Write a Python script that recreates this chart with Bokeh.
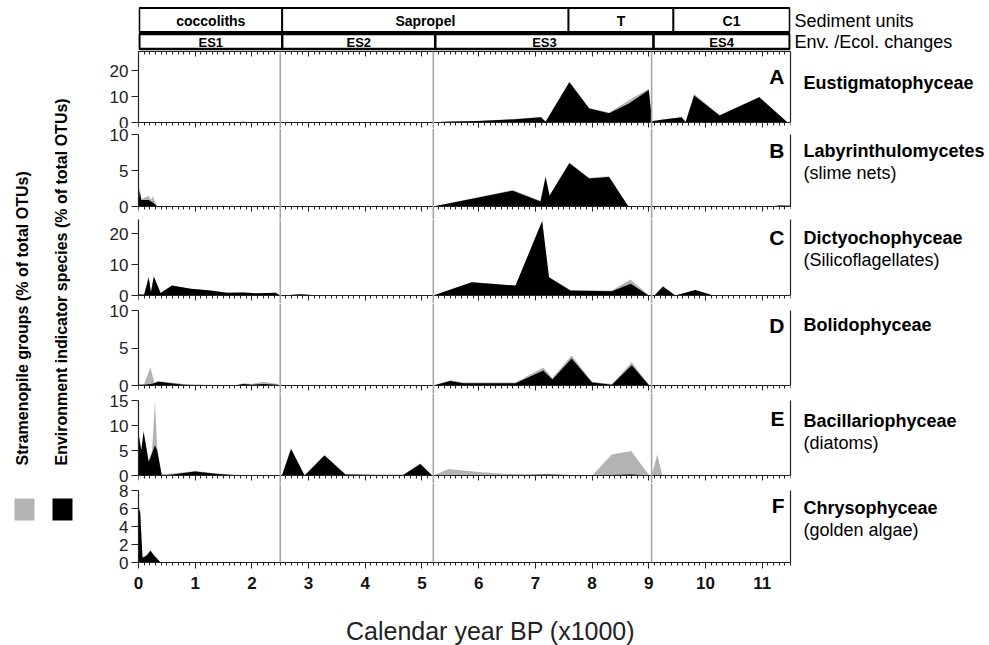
import math
from bokeh.plotting import figure
from bokeh.layouts import row, column
from bokeh.models import (Range1d, LinearAxis, SingleIntervalTicker, FixedTicker,
                          Span, Label, ColumnDataSource, CustomJSTickFormatter)
from bokeh.core.properties import value
from bokeh.embed import file_html
from bokeh.resources import INLINE

FONT = "Liberation Sans"
GRAY = "#b3b3b3"
VLINE = "#a6a6a6"
AXC = "#222222"

# ---------------- data ----------------
sediment_units = ["coccoliths", "Sapropel", "T", "C1"]
sediment_edges = [-0.02, 2.5, 7.55, 9.4, 11.45]
env_changes = ["ES1", "ES2", "ES3", "ES4"]
env_edges = [-0.02, 2.5, 5.2, 9.05, 11.45]
boundaries = [2.5, 5.2, 9.05]
x_max = 11.5

# A  Eustigmatophyceae
xA = [0.0, 1.75, 1.85, 1.95, 5.2, 5.4, 6.0, 6.6, 7.1, 7.18, 7.6, 7.95, 8.3, 8.65, 9.0,
      9.06, 9.2, 9.58, 9.65, 9.8, 10.25, 10.95, 11.45, 11.5]
blackA = [0, 0, 0.3, 0, 0, 0.3, 0.6, 1.2, 2.0, 0.3, 15.5, 5.4, 3.6, 7.3, 12.5,
          0.5, 1.0, 2.0, 0.2, 10.4, 2.7, 9.7, 0, 0]
grayA = [0, 0, 0.4, 0, 0, 0.4, 0.7, 1.3, 2.1, 0.4, 15.8, 5.6, 3.8, 8.6, 13.0,
         0.6, 1.1, 2.1, 0.3, 11.0, 2.9, 9.9, 0, 0]

# B  Labyrinthulomycetes
xB = [0.0, 0.02, 0.05, 0.18, 0.22, 0.25, 0.33, 5.2, 6.6, 7.09, 7.18, 7.25, 7.6,
      7.95, 8.3, 8.64, 11.2, 11.3, 11.5]
blackB = [0, 2.2, 0.9, 0.9, 0.7, 0.6, 0, 0, 2.2, 0.7, 4.1, 1.5, 6.0, 3.9, 4.1, 0, 0, 0.15, 0.1]
grayB = [0, 2.6, 1.0, 1.5, 0.9, 1.4, 0, 0, 2.3, 0.8, 4.2, 1.6, 6.1, 4.0, 4.2, 0, 0, 0.2, 0.1]

# C  Dictyochophyceae
xC = [0.0, 0.1, 0.18, 0.22, 0.27, 0.39, 0.59, 0.92, 1.27, 1.56, 1.85, 2.09, 2.42, 2.5,
      2.6, 2.86, 3.2, 5.2, 5.62, 5.88, 6.65, 7.12, 7.24, 7.62, 8.35, 8.68, 9.0, 9.1,
      9.25, 9.47, 9.82, 10.14, 11.5]
blackC = [0.3, 0.3, 5.9, 1.0, 6.1, 0.8, 3.2, 2.2, 1.6, 0.9, 1.0, 0.7, 0.9, 0,
          0.1, 0.4, 0, 0, 2.7, 4.3, 3.2, 24.0, 5.9, 1.6, 1.4, 3.8, 0, 0,
          2.9, 0, 1.8, 0, 0]
grayC = [0.3, 0.3, 5.9, 1.0, 6.1, 0.8, 3.2, 2.2, 1.6, 0.9, 1.0, 0.7, 0.9, 0,
         0.1, 0.4, 0, 0, 2.7, 4.3, 3.2, 24.0, 5.9, 1.6, 1.6, 5.2, 0, 0,
         2.9, 0, 1.8, 0, 0]

# D  Bolidophyceae
xD = [0.0, 0.1, 0.21, 0.28, 0.35, 0.8, 1.2, 1.7, 1.85, 2.0, 2.2, 2.45, 2.5, 5.2, 5.5,
      5.73, 6.65, 7.14, 7.3, 7.64, 8.0, 8.35, 8.7, 9.01, 11.5]
blackD = [0.1, 0.1, 0.2, 0.3, 0.5, 0.1, 0.0, 0.0, 0.2, 0.1, 0.2, 0.1, 0, 0, 0.6,
          0.3, 0.3, 2.0, 0.8, 3.6, 0.4, 0.1, 2.7, 0, 0]
grayD = [0.1, 0.2, 2.4, 0.4, 0.6, 0.2, 0.1, 0.05, 0.3, 0.2, 0.5, 0.2, 0, 0, 0.7,
         0.4, 0.4, 2.4, 1.0, 4.0, 0.5, 0.2, 3.1, 0, 0]

# E  Bacillariophyceae
xE = [0.0, 0.05, 0.09, 0.18, 0.24, 0.29, 0.33, 0.41, 0.6, 1.0, 1.4, 1.8, 2.5, 2.53,
      2.69, 2.93, 3.28, 3.65, 4.2, 4.67, 4.97, 5.18, 5.2, 5.47, 6.0, 6.5, 7.2, 8.0,
      8.35, 8.69, 9.01, 9.05, 9.15, 9.24, 11.5]
blackE = [8.3, 5.0, 8.7, 2.7, 4.5, 6.0, 5.0, 0, 0.2, 0.8, 0.3, 0, 0, 0,
          5.3, 0, 4.0, 0.2, 0.1, 0.1, 2.3, 0, 0, 0.1, 0.05, 0, 0.2, 0,
          0.1, 0.2, 0, 0, 0, 0, 0]
grayE = [8.5, 5.2, 9.0, 3.0, 5.0, 15.0, 5.5, 0.3, 0.4, 0.9, 0.4, 0.1, 0, 0,
         5.4, 0.1, 4.1, 0.3, 0.2, 0.2, 2.4, 0, 0, 1.3, 0.7, 0.3, 0.2, 0,
         4.2, 4.9, 0, 0, 4.2, 0, 0]

# F  Chrysophyceae
xF = [0.0, 0.03, 0.07, 0.1, 0.15, 0.21, 0.27, 0.39, 11.5]
blackF = [6.1, 5.5, 0.5, 0.6, 0.8, 1.3, 0.8, 0, 0]
grayF = [6.4, 5.8, 0.7, 0.7, 0.9, 1.4, 0.9, 0, 0]

panel_letters = ["A", "B", "C", "D", "E", "F"]
group_names = ["Eustigmatophyceae", "Labyrinthulomycetes", "Dictyochophyceae",
               "Bolidophyceae", "Bacillariophyceae", "Chrysophyceae"]
group_subtitles = ["", "(slime nets)", "(Silicoflagellates)", "", "(diatoms)", "(golden algae)"]
y_ticks = [[0, 10, 20], [0, 5, 10], [0, 10, 20], [0, 5, 10], [0, 5, 10, 15], [0, 2, 4, 6, 8]]
y_axis_max = [None, 10, 25, 10, 15, 8]
series_x = [xA, xB, xC, xD, xE, xF]
series_black = [blackA, blackB, blackC, blackD, blackE, blackF]
series_gray = [grayA, grayB, grayC, grayD, grayE, grayF]

# ---------------- geometry (page pixels) ----------------
W, H = 989, 645
X0, X1 = 138, 790
PX = (X1 - X0) / x_max
LEFT_W = 98
COL_R = 793
BL = X0 - LEFT_W
BR = COL_R - X1
HEADER_H = 51
F_BOTTOM = 34

# top, bottom of canvas; baseline; px per unit
geo = [(51, 128, 122, 2.6), (128, 219, 206, 7.2), (219, 303, 295, 3.1),
       (303, 393, 385, 7.5), (393, 483, 475, 5.0), (483, 562, 562, 9.0)]
letter_y = [76, 150, 237, 325, 418, 505]
name_y = [82, 150, 237, 324, 420, 507]


def tick_x():
    return SingleIntervalTicker(interval=1, num_minor_ticks=10)


def base_fig(**kw):
    p = figure(output_backend="svg", toolbar_location=None,
               x_axis_location=None, y_axis_location=None, **kw)
    p.outline_line_color = None
    p.background_fill_color = "white"
    p.border_fill_color = "white"
    for g in p.grid:
        g.visible = False
    return p


def blank_axis(**kw):
    return LinearAxis(formatter=CustomJSTickFormatter(code="return ''"),
                      major_label_text_font_size="0px", major_label_standoff=0,
                      axis_line_color=AXC, major_tick_line_color=AXC,
                      minor_tick_line_color=AXC, axis_line_width=1.2, **kw)


# ---------------- header ----------------
HSHIFT = -0.035
header = base_fig(frame_width=X1 - X0, frame_height=HEADER_H,
                  x_range=Range1d(HSHIFT, x_max + HSHIFT), y_range=Range1d(HEADER_H, 0),
                  min_border_left=BL, min_border_right=BR,
                  min_border_top=0, min_border_bottom=0)
header.quad(left=sediment_edges[:-1], right=sediment_edges[1:], top=7.5, bottom=31.5,
            fill_color="white", line_color="black", line_width=1.8)
header.quad(left=env_edges[:-1], right=env_edges[1:], top=33.5, bottom=48.5,
            fill_color="white", line_color="black", line_width=2.4)
sed_src = ColumnDataSource(dict(
    x=[(a + b) / 2 for a, b in zip(sediment_edges[:-1], sediment_edges[1:])],
    t=sediment_units))
env_src = ColumnDataSource(dict(
    x=[(a + b) / 2 for a, b in zip(env_edges[:-1], env_edges[1:])],
    t=env_changes))
header.text(x="x", y=20, text="t", source=sed_src, text_align="center",
            text_baseline="middle", text_font=value(FONT), text_font_size="14px",
            text_font_style="bold")
header.text(x="x", y=41.5, text="t", source=env_src, text_align="center",
            text_baseline="middle", text_font=value(FONT), text_font_size="13px",
            text_font_style="bold")

# ---------------- panels ----------------
panels = []
for i in range(6):
    top, bot, base, sc = geo[i]
    last = i == 5
    y0 = -(bot - base) / sc
    y1 = (base - top) / sc
    p = base_fig(frame_width=X1 - X0, frame_height=bot - top,
                 x_range=Range1d(0, x_max), y_range=Range1d(y0, y1),
                 min_border_left=BL, min_border_right=BR, min_border_top=0,
                 min_border_bottom=F_BOTTOM if last else 0)
    p.varea(x=series_x[i], y1=0, y2=series_gray[i], fill_color=GRAY)
    p.varea(x=series_x[i], y1=0, y2=series_black[i], fill_color="black")
    for b in boundaries:
        p.add_layout(Span(location=b, dimension="height", line_color=VLINE, line_width=1.6))

    amax = y_axis_max[i] if y_axis_max[i] is not None else y1
    la = LinearAxis(bounds=(0, amax), ticker=FixedTicker(ticks=y_ticks[i]),
                    major_tick_out=7, major_tick_in=0, minor_tick_out=0, minor_tick_in=0,
                    major_label_text_font=FONT, major_label_text_font_size="17px",
                    major_label_text_color="#222222", major_label_standoff=3,
                    axis_line_color=AXC, major_tick_line_color=AXC, axis_line_width=1.2)
    p.add_layout(la, "left")
    ra = blank_axis(bounds=(0, amax), ticker=FixedTicker(ticks=[]),
                    major_tick_out=0, major_tick_in=0, minor_tick_out=0, minor_tick_in=0)
    p.add_layout(ra, "right")

    if i == 0:
        ta = blank_axis(ticker=tick_x(), major_tick_in=5, major_tick_out=0,
                        minor_tick_in=3, minor_tick_out=0)
        p.add_layout(ta, "above")
    if not last:
        fa = blank_axis(fixed_location=0, ticker=tick_x(), major_tick_in=5, major_tick_out=0,
                        minor_tick_in=3, minor_tick_out=0)
        p.add_layout(fa, "above")
    else:
        xa = LinearAxis(ticker=tick_x(), major_tick_out=6, major_tick_in=0,
                        minor_tick_out=3, minor_tick_in=0,
                        major_label_text_font=FONT, major_label_text_font_size="17px",
                        major_label_text_font_style="bold", major_label_text_color="#111111",
                        major_label_standoff=8,
                        axis_line_color=AXC, major_tick_line_color=AXC,
                        minor_tick_line_color=AXC, axis_line_width=1.2)
        p.add_layout(xa, "below")

    p.add_layout(Label(x=(784 - X0) / PX, y=(base - letter_y[i]) / sc, text=panel_letters[i],
                       text_font=FONT, text_font_size="21px", text_font_style="bold",
                       text_color="black", text_align="right", text_baseline="middle"))
    panels.append(p)

# ---------------- footer (x-axis title) ----------------
FOOT_TOP = 562 + F_BOTTOM
footer = base_fig(frame_width=X1 - X0, frame_height=H - FOOT_TOP,
                  x_range=Range1d(X0, X1), y_range=Range1d(H, FOOT_TOP),
                  min_border_left=BL, min_border_right=BR, min_border_top=0,
                  min_border_bottom=0)
footer.add_layout(Label(x=490, y=630, text="Calendar year BP (x1000)", text_font=FONT,
                        text_font_size="25px", text_align="center", text_baseline="middle",
                        text_color="#222222"))

# ---------------- right texts ----------------
right = base_fig(width=W - COL_R, height=H, x_range=Range1d(COL_R, W),
                 y_range=Range1d(H, 0), min_border=0)
right.add_layout(Label(x=794, y=20, text="Sediment units", text_font=FONT,
                       text_font_size="18px", text_baseline="middle", text_color="black"))
right.add_layout(Label(x=794, y=41.5, text="Env. /Ecol. changes", text_font=FONT,
                       text_font_size="18px", text_baseline="middle", text_color="black"))
for i in range(6):
    right.add_layout(Label(x=803, y=name_y[i], text=group_names[i], text_font=FONT,
                           text_font_size="18px", text_font_style="bold",
                           text_baseline="middle", text_color="black"))
    if group_subtitles[i]:
        right.add_layout(Label(x=803, y=name_y[i] + 22, text=group_subtitles[i],
                               text_font=FONT, text_font_size="18px",
                               text_baseline="middle", text_color="black"))

# ---------------- left legend / titles ----------------
left = base_fig(width=LEFT_W, height=H, x_range=Range1d(0, LEFT_W),
                y_range=Range1d(H, 0), min_border=0)
left.add_layout(Label(x=22, y=465, text="Stramenopile groups (% of total OTUs)",
                      angle=math.pi / 2, text_font=FONT, text_font_size="16px",
                      text_font_style="bold", text_align="left", text_baseline="middle",
                      text_color="black"))
left.add_layout(Label(x=61, y=465,
                      text="Environment indicator species (% of total OTUs)",
                      angle=math.pi / 2, text_font=FONT, text_font_size="16px",
                      text_font_style="bold", text_align="left", text_baseline="middle",
                      text_color="black"))
left.quad(left=[14, 52], right=[34, 72], top=[498, 498], bottom=[520, 520],
          fill_color=[GRAY, "black"], line_color=None)

layout = row(left, column(header, *panels, footer, spacing=0), right, spacing=0)
open("out.html", "w").write(file_html(layout, INLINE))
